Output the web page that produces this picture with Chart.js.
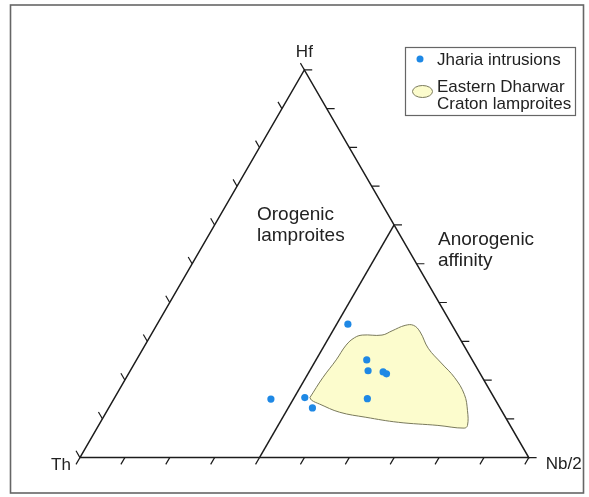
<!DOCTYPE html>
<html>
<head>
<meta charset="utf-8">
<title>Hf – Th – Nb/2 ternary diagram</title>
<script src="https://cdn.jsdelivr.net/npm/chart.js@4/dist/chart.umd.min.js"></script>
<style>
  html, body { margin: 0; padding: 0; background: #fff; }
  #wrap { width: 589px; height: 497px; }
</style>
</head>
<body>
<div id="wrap"><canvas id="chart" width="589" height="497"></canvas></div>
<script>
// Ternary apexes
const apexLabels = ['Th', 'Nb/2', 'Hf'];

// Jharia intrusions (fractions of Th, Nb/2, Hf)
const jhariaTh = [0.231, 0.235, 0.246, 0.214, 0.209, 0.284, 0.499, 0.422, 0.418];
const jhariaNb = [0.425, 0.513, 0.530, 0.565, 0.575, 0.565, 0.350, 0.424, 0.454];
const jhariaHf = [0.344, 0.252, 0.224, 0.221, 0.216, 0.152, 0.151, 0.155, 0.128];

// Eastern Dharwar Craton lamproite field outline (closed)
const edcTh = [0.410, 0.356, 0.303, 0.262, 0.234, 0.213, 0.169, 0.141, 0.105, 0.086, 0.080, 0.083,
               0.073, 0.062, 0.062, 0.076, 0.095, 0.106, 0.161, 0.245, 0.311, 0.363, 0.397, 0.410, 0.410];
const edcNb = [0.435, 0.438, 0.445, 0.448, 0.457, 0.471, 0.515, 0.532, 0.554, 0.573, 0.596, 0.635,
               0.683, 0.732, 0.775, 0.803, 0.822, 0.818, 0.756, 0.664, 0.585, 0.520, 0.465, 0.442, 0.435];
const edcHf = [0.155, 0.206, 0.252, 0.290, 0.309, 0.316, 0.316, 0.327, 0.341, 0.341, 0.324, 0.282,
               0.244, 0.206, 0.163, 0.121, 0.083, 0.076, 0.083, 0.091, 0.104, 0.117, 0.138, 0.148, 0.155];

// Orogenic / anorogenic divide: constant Nb/2 line
const divideTh = [0.6, 0.0];
const divideNb = [0.4, 0.4];
const divideHf = [0.0, 0.6];

// Tick positions along each side
const tickSteps = [0, 0.1, 0.2, 0.3, 0.4, 0.5, 0.6, 0.7, 0.8, 0.9, 1];

const H = Math.sqrt(3) / 2;
function tern(th, nb, hf) {
  const s = th + nb + hf;
  return { x: (nb + hf / 2) / s, y: (hf * H) / s };
}
function series(th, nb, hf) {
  return th.map((v, i) => tern(v, nb[i], hf[i]));
}

// Triangle outline
const outline = [tern(1, 0, 0), tern(0, 1, 0), tern(0, 0, 1), tern(1, 0, 0)];

// Tick marks, each pointing outward and parallel to a neighbouring side
const TICK = 0.0175;
const ticks = [];
const GAP = { x: NaN, y: NaN };
tickSteps.forEach(t => {
  // base (Th -> Nb/2)
  const b = tern(1 - t, t, 0);
  ticks.push(b, { x: b.x - TICK * 0.5, y: b.y - TICK * H }, GAP);
  // right side (Nb/2 -> Hf)
  const r = tern(0, 1 - t, t);
  ticks.push(r, { x: r.x + TICK, y: r.y }, GAP);
  // left side (Th -> Hf)
  const l = tern(1 - t, 0, t);
  ticks.push(l, { x: l.x - TICK * 0.5, y: l.y + TICK * H }, GAP);
});

const INK = '#1c1c1c';
const DOT = '#1e88e5';
const FIELD = '#fcfccd';
const FIELD_EDGE = '#7a7a5c';
const FONT = '"Liberation Sans", Arial, Helvetica, sans-serif';

const decor = {
  id: 'decor',
  beforeDraw(chart) {
    const c = chart.ctx;
    c.save();
    c.fillStyle = '#fff';
    c.fillRect(0, 0, chart.width, chart.height);
    c.restore();
  },
  afterDraw(chart) {
    const c = chart.ctx;
    const xs = chart.scales.x, ys = chart.scales.y;
    const px = p => ({ x: xs.getPixelForValue(p.x), y: ys.getPixelForValue(p.y) });
    c.save();

    // outer frame
    c.strokeStyle = '#666';
    c.lineWidth = 1.6;
    c.strokeRect(10.5, 5, 573, 488);

    c.fillStyle = '#222';
    c.textBaseline = 'alphabetic';

    // apex labels
    const pTh = px(tern(1, 0, 0)), pNb = px(tern(0, 1, 0)), pHf = px(tern(0, 0, 1));
    c.font = '17px ' + FONT;
    c.textAlign = 'center';
    c.fillText(apexLabels[2], pHf.x, pHf.y - 13);
    c.textAlign = 'right';
    c.fillText(apexLabels[0], pTh.x - 9, pTh.y + 12);
    c.textAlign = 'left';
    c.fillText(apexLabels[1], pNb.x + 17, pNb.y + 11);

    // field names
    c.font = '19px ' + FONT;
    c.fillText('Orogenic', 257, 220);
    c.fillText('lamproites', 257, 241);
    c.fillText('Anorogenic', 438, 245);
    c.fillText('affinity', 438, 266);

    // legend
    c.strokeStyle = '#666';
    c.lineWidth = 1.2;
    c.strokeRect(405.5, 47.5, 170, 68);
    c.beginPath();
    c.arc(420, 59, 3.5, 0, Math.PI * 2);
    c.fillStyle = DOT;
    c.fill();
    c.beginPath();
    c.ellipse(422.5, 91.5, 10, 6, 0, 0, Math.PI * 2);
    c.fillStyle = FIELD;
    c.fill();
    c.strokeStyle = FIELD_EDGE;
    c.lineWidth = 1;
    c.stroke();
    c.fillStyle = '#222';
    c.font = '17px ' + FONT;
    c.textAlign = 'left';
    c.fillText('Jharia intrusions', 437, 65);
    c.fillText('Eastern Dharwar', 437, 92);
    c.fillText('Craton lamproites', 437, 109);

    c.restore();
  }
};

new Chart(document.getElementById('chart'), {
  type: 'scatter',
  data: {
    datasets: [
      {
        label: 'Jharia intrusions',
        data: series(jhariaTh, jhariaNb, jhariaHf),
        backgroundColor: DOT,
        borderWidth: 0,
        pointRadius: 3.6,
        order: 0
      },
      {
        label: 'triangle',
        data: outline,
        showLine: true,
        borderColor: INK,
        borderWidth: 1.5,
        pointRadius: 0,
        fill: false,
        order: 1
      },
      {
        label: 'divide',
        data: series(divideTh, divideNb, divideHf),
        showLine: true,
        borderColor: INK,
        borderWidth: 1.5,
        pointRadius: 0,
        fill: false,
        order: 1
      },
      {
        label: 'ticks',
        data: ticks,
        showLine: true,
        spanGaps: false,
        borderColor: INK,
        borderWidth: 1.2,
        pointRadius: 0,
        fill: false,
        order: 1
      },
      {
        label: 'Eastern Dharwar Craton lamproites',
        data: series(edcTh, edcNb, edcHf),
        showLine: true,
        tension: 0.4,
        borderColor: FIELD_EDGE,
        borderWidth: 1,
        backgroundColor: FIELD,
        fill: 'shape',
        pointRadius: 0,
        order: 2
      }
    ]
  },
  options: {
    responsive: false,
    animation: false,
    devicePixelRatio: 1,
    layout: { padding: 0 },
    events: [],
    plugins: {
      legend: { display: false },
      tooltip: { enabled: false },
      title: { display: false }
    },
    scales: {
      x: { type: 'linear', display: false, min: -0.1692, max: 1.1253 },
      y: { type: 'linear', display: false, min: -0.0791, max: 1.0132 }
    }
  },
  plugins: [decor]
});
</script>
</body>
</html>
